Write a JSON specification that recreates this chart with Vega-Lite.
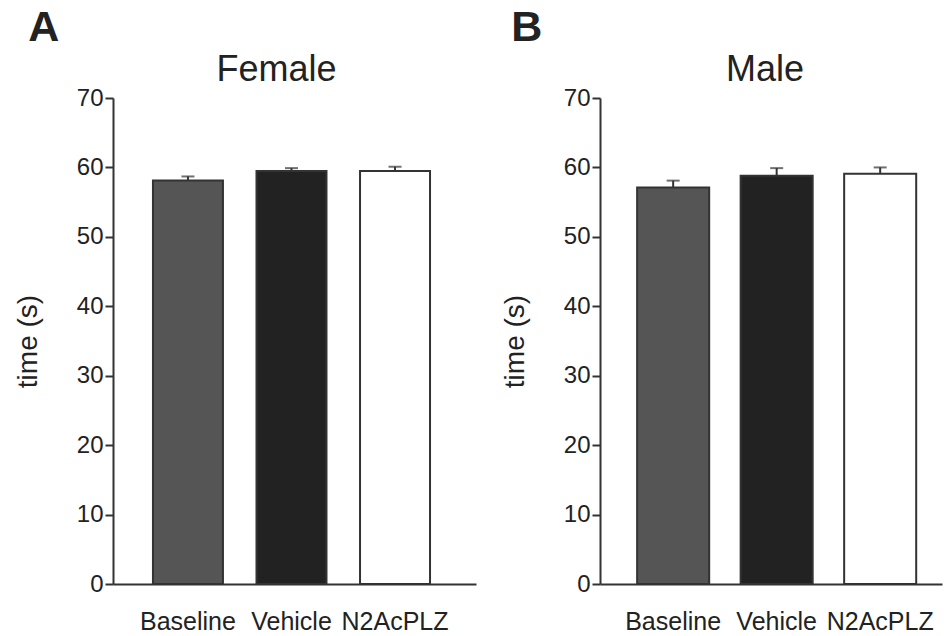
{
  "$schema": "https://vega.github.io/schema/vega-lite/v6.json",
  "background": "white",
  "padding": {"left": 14, "top": 7, "right": 5, "bottom": 0},
  "datasets": {
    "female": [
      {"sex": "Female", "group": "Baseline", "time": 58.1, "upper": 58.7},
      {"sex": "Female", "group": "Vehicle", "time": 59.5, "upper": 59.9},
      {"sex": "Female", "group": "N2AcPLZ", "time": 59.5, "upper": 60.1}
    ],
    "male": [
      {"sex": "Male", "group": "Baseline", "time": 57.1, "upper": 58.1},
      {"sex": "Male", "group": "Vehicle", "time": 58.8, "upper": 59.9},
      {"sex": "Male", "group": "N2AcPLZ", "time": 59.1, "upper": 60.0}
    ]
  },
  "config": {
    "font": "Liberation Sans",
    "view": {"stroke": null},
    "axis": {
      "domainColor": "#333333",
      "domainWidth": 2,
      "tickColor": "#333333",
      "tickWidth": 2,
      "labelColor": "#222222",
      "titleColor": "#222222",
      "grid": false,
      "labelFont": "Liberation Sans",
      "titleFont": "Liberation Sans"
    },
    "title": {"font": "Liberation Sans", "color": "#222222"}
  },
  "spacing": 25,
  "hconcat": [
    {
      "title": {"text": "A", "anchor": "start", "frame": "bounds", "fontSize": 43, "fontWeight": "bold", "dx": 14, "offset": 2},
      "vconcat": [
        {
          "data": {"name": "female"},
          "title": {"text": "Female", "anchor": "middle", "fontSize": 36, "fontWeight": "normal", "dx": -18, "offset": -3},
          "width": 363,
          "height": 486,
          "encoding": {
            "x": {"field": "group", "type": "nominal", "sort": ["Baseline", "Vehicle", "N2AcPLZ"],
                  "scale": {"paddingInner": 0.324, "paddingOuter": 0.415, "align": 0.465},
                  "axis": {"title": null, "labelAngle": 0, "ticks": false, "labelFontSize": 25, "labelPadding": 25, "labelOverlap": false}}
          },
          "layer": [
            {
              "mark": {"type": "bar", "stroke": "#333333", "strokeWidth": 2},
              "encoding": {
                "y": {"field": "time", "type": "quantitative", "scale": {"domain": [0, 70]},
                      "axis": {"title": "time (s)", "titleFontSize": 28, "titleFontWeight": "normal", "labelFontSize": 24, "values": [0,10,20,30,40,50,60,70], "labelOverlap": false, "tickSize": 8, "labelPadding": 2, "titlePadding": 34}},
                "fill": {"field": "group", "type": "nominal", "legend": null,
                         "scale": {"domain": ["Baseline", "Vehicle", "N2AcPLZ"], "range": ["#555555", "#222222", "#ffffff"]}}
              }
            },
            {
              "mark": {"type": "rule", "color": "#333333", "strokeWidth": 2},
              "encoding": {"y": {"field": "time", "type": "quantitative"}, "y2": {"field": "upper"}}
            },
            {
              "mark": {"type": "tick", "color": "#333333", "thickness": 2, "size": 13},
              "encoding": {"y": {"field": "upper", "type": "quantitative"}}
            }
          ]
        }
      ]
    },
    {
      "title": {"text": "B", "anchor": "start", "frame": "bounds", "fontSize": 43, "fontWeight": "bold", "dx": 10, "offset": 2},
      "vconcat": [
        {
          "data": {"name": "male"},
          "title": {"text": "Male", "anchor": "middle", "fontSize": 36, "fontWeight": "normal", "dx": -6, "offset": -3},
          "width": 342,
          "height": 486,
          "encoding": {
            "x": {"field": "group", "type": "nominal", "sort": ["Baseline", "Vehicle", "N2AcPLZ"],
                  "scale": {"paddingInner": 0.304, "paddingOuter": 0.304, "align": 0.59},
                  "axis": {"title": null, "labelAngle": 0, "ticks": false, "labelFontSize": 25, "labelPadding": 25, "labelOverlap": false}}
          },
          "layer": [
            {
              "mark": {"type": "bar", "stroke": "#333333", "strokeWidth": 2},
              "encoding": {
                "y": {"field": "time", "type": "quantitative", "scale": {"domain": [0, 70]},
                      "axis": {"title": "time (s)", "titleFontSize": 28, "titleFontWeight": "normal", "labelFontSize": 24, "values": [0,10,20,30,40,50,60,70], "labelOverlap": false, "tickSize": 8, "labelPadding": 2, "titlePadding": 34}},
                "fill": {"field": "group", "type": "nominal", "legend": null,
                         "scale": {"domain": ["Baseline", "Vehicle", "N2AcPLZ"], "range": ["#555555", "#222222", "#ffffff"]}}
              }
            },
            {
              "mark": {"type": "rule", "color": "#333333", "strokeWidth": 2},
              "encoding": {"y": {"field": "time", "type": "quantitative"}, "y2": {"field": "upper"}}
            },
            {
              "mark": {"type": "tick", "color": "#333333", "thickness": 2, "size": 13},
              "encoding": {"y": {"field": "upper", "type": "quantitative"}}
            }
          ]
        }
      ]
    }
  ]
}
